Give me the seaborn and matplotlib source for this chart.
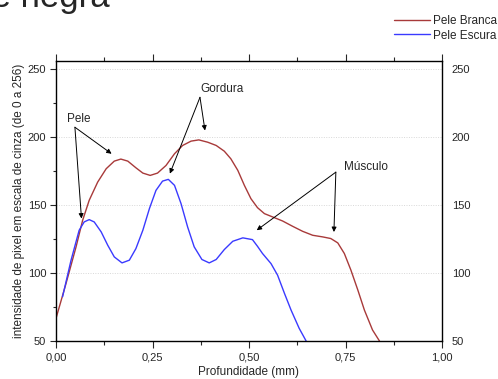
import matplotlib
matplotlib.use("Agg")
import matplotlib.pyplot as plt
import seaborn as sns
import pandas as pd
from matplotlib.ticker import MultipleLocator, FuncFormatter
from matplotlib.lines import Line2D

# ---- data ----
branca_x = [0.000, 0.026, 0.052, 0.069, 0.086, 0.108, 0.130, 0.151, 0.168, 0.186,
            0.207, 0.225, 0.244, 0.263, 0.285, 0.307, 0.328, 0.350, 0.370, 0.393,
            0.415, 0.436, 0.453, 0.471, 0.488, 0.505, 0.522, 0.540, 0.561, 0.587,
            0.613, 0.639, 0.665, 0.691, 0.712, 0.730, 0.747, 0.764, 0.782, 0.799,
            0.820, 0.838]
branca_y = [66.6, 92.3, 119.2, 138.7, 153.4, 166.8, 176.6, 182.2, 183.7, 182.2,
            177.3, 173.4, 171.7, 173.4, 179.0, 187.6, 193.7, 196.9, 197.8, 196.1,
            193.7, 189.5, 183.9, 175.4, 164.4, 154.6, 148.0, 143.6, 141.2, 138.2,
            134.3, 130.6, 127.7, 126.5, 125.3, 122.1, 114.3, 102.1, 87.4, 72.7,
            58.1, 50.0]

escura_x = [0.017, 0.039, 0.060, 0.073, 0.086, 0.099, 0.117, 0.134, 0.151, 0.171,
            0.190, 0.207, 0.225, 0.242, 0.259, 0.276, 0.291, 0.307, 0.324, 0.341,
            0.358, 0.378, 0.397, 0.415, 0.436, 0.458, 0.484, 0.509, 0.522, 0.535,
            0.557, 0.574, 0.592, 0.609, 0.630, 0.648]
escura_y = [82.5, 109.4, 131.4, 137.5, 139.2, 137.5, 130.2, 120.4, 111.8, 107.4,
            109.4, 117.9, 131.4, 147.3, 160.7, 167.5, 168.8, 164.4, 150.9, 133.8,
            119.2, 109.9, 107.4, 109.9, 117.2, 123.3, 125.8, 124.5, 119.6, 114.3,
            106.9, 98.4, 84.9, 72.7, 59.3, 50.0]

series_names = ["Pele Branca", "Pele Escura"]
x_ticks = [0.0, 0.25, 0.5, 0.75, 1.0]
y_ticks = [50, 100, 150, 200, 250]

df = pd.concat([
    pd.DataFrame({"x": branca_x, "y": branca_y, "serie": series_names[0]}),
    pd.DataFrame({"x": escura_x, "y": escura_y, "serie": series_names[1]}),
], ignore_index=True)

sns.set_style("ticks")
plt.rcParams["font.family"] = ["Liberation Sans", "DejaVu Sans"]

W, H = 498, 379
fig = plt.figure(figsize=(W / 100, H / 100), dpi=100)
ax = fig.add_axes([56 / W, 1 - 341 / H, (442 - 56) / W, (341 - 60.7) / H])

palette = {"Pele Branca": "#a83a3a", "Pele Escura": "#3a3aff"}
sns.lineplot(data=df, x="x", y="y", hue="serie", palette=palette, sort=False,
             estimator=None, ax=ax, linewidth=1.0, legend=False)

ax.set_xlim(0, 1)
ax.set_ylim(50, 256)
ax.set_xticks(x_ticks)
ax.set_yticks(y_ticks)
ax.xaxis.set_minor_locator(MultipleLocator(0.125))
ax.yaxis.set_minor_locator(MultipleLocator(25))
ax.xaxis.set_major_formatter(FuncFormatter(lambda v, p: f"{v:.2f}".replace(".", ",")))

for s in ax.spines.values():
    s.set_visible(True)
    s.set_linewidth(1.0)
    s.set_color("black")

ax.tick_params(axis="x", which="major", direction="out", length=5, width=0.8,
               top=True, bottom=True, labelsize=8, pad=3)
ax.tick_params(axis="x", which="minor", direction="out", length=3, width=0.8,
               top=True, bottom=True)
ax.tick_params(axis="y", which="major", direction="out", length=4, width=0.8,
               left=True, right=False, labelleft=True, labelright=True,
               labelsize=8, pad=3)
ax.tick_params(axis="y", which="minor", direction="out", length=2.5, width=0.8,
               left=True, right=False)

for yv in y_ticks[1:]:
    ax.axhline(yv, color="#d8d8d8", linestyle=(0, (1, 1.5)), linewidth=0.7, zorder=0)

ax.set_xlabel("Profundidade (mm)", fontsize=8.5, labelpad=3)
ax.set_ylabel("intensidade de pixel em escala de cinza (de 0 a 256)", fontsize=8.5, labelpad=2)

arrow = dict(arrowstyle="-|>", color="black", lw=0.7, mutation_scale=7, shrinkA=0, shrinkB=0)
annots = [
    ("Pele", (0.049, 207.1), [(0.144, 187.6), (0.066, 140.0)], (0.058, 213)),
    ("Gordura", (0.373, 229.1), [(0.386, 204.7), (0.295, 173.0)], (0.429, 235.0)),
    ("Músculo", (0.725, 174.1), [(0.520, 131.4), (0.720, 130.1)], (0.802, 178.0)),
]
for label, origin, targets, textpos in annots:
    for t in targets:
        ax.annotate("", xy=t, xytext=origin, arrowprops=arrow)
    ax.text(textpos[0], textpos[1], label, fontsize=8.5, ha="center", va="center")

# legend outside top right
handles = [Line2D([], [], color=palette[n], lw=1.0) for n in series_names]
fig.legend(handles, series_names, loc="upper right", bbox_to_anchor=(1.0, 1 - 14 / H),
           frameon=False, fontsize=8.5, handlelength=3.0, handletextpad=0.25,
           labelspacing=0.2, borderaxespad=0, borderpad=0.1)

# title fragment cut off at top of the image
fig.text(110 / W, 1 - 7 / H, "Perfil das peles branca e negra", ha="right",
         va="baseline", fontsize=25)

fig.savefig("out.png", dpi=100)
